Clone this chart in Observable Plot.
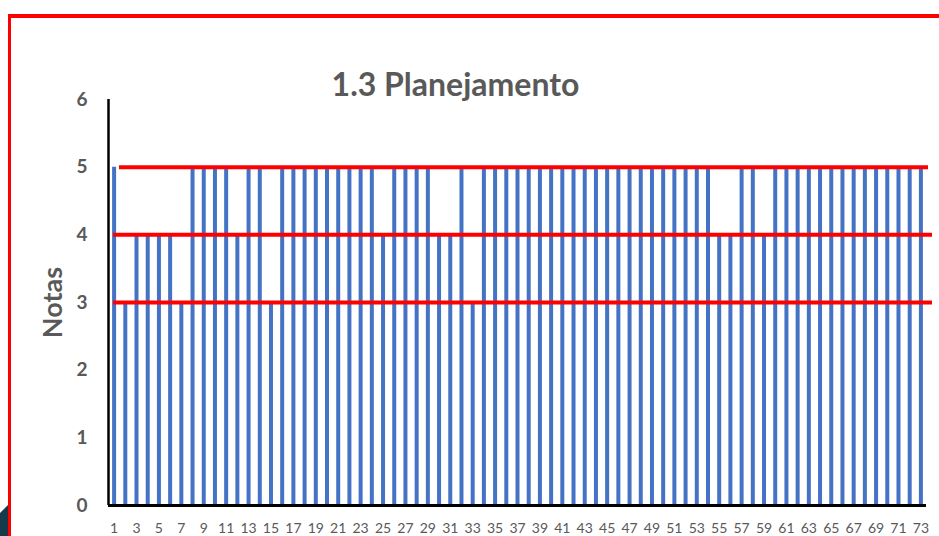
<!DOCTYPE html>
<html>
<head>
<meta charset="utf-8">
<script src="https://cdn.jsdelivr.net/npm/d3@7"></script>
<script src="https://cdn.jsdelivr.net/npm/@observablehq/plot@0.6"></script>
<style>
  html, body { margin: 0; padding: 0; background: #fff; }
  #wrap { position: relative; width: 939px; height: 536px; overflow: hidden; background: #fff; }
  #chart { position: absolute; left: 0; top: 0; }
  #border { position: absolute; left: 8px; top: 14px; width: 1000px; height: 700px;
            border-top: 4px solid #ff0000; border-left: 3px solid #ff0000; pointer-events: none; }
  #corner { position: absolute; left: 0; top: 504px; width: 9px; height: 32px; background: #173a4b;
            clip-path: polygon(0 9px, 100% 0, 100% 100%, 0 100%); }
</style>
</head>
<body>
<div id="wrap">
  <div id="chart"></div>
  <div id="corner"></div>
  <div id="border"></div>
</div>
<script>
const title = "1.3 Planejamento";
const yLabel = "Notas";
const alunos = [1,2,3,4,5,6,7,8,9,10,11,12,13,14,15,16,17,18,19,20,21,22,23,24,25,26,27,28,29,30,31,32,33,34,35,36,37,38,39,40,41,42,43,44,45,46,47,48,49,50,51,52,53,54,55,56,57,58,59,60,61,62,63,64,65,66,67,68,69,70,71,72,73];
const notas  = [5,3,4,4,4,4,3,5,5,5,5,4,5,5,3,5,5,5,5,5,5,5,5,5,4,5,5,5,5,4,4,5,3,5,5,5,5,5,5,5,5,5,5,5,5,5,5,5,5,5,5,5,5,5,4,4,5,5,4,5,5,5,5,5,5,5,5,5,5,5,5,5,5];
const xTicks = [1,3,5,7,9,11,13,15,17,19,21,23,25,27,29,31,33,35,37,39,41,43,45,47,49,51,53,55,57,59,61,63,65,67,69,71,73];
const yTicks = [0,1,2,3,4,5,6];
const referencias = [3,4,5];

const data = alunos.map((a, i) => ({aluno: a, nota: notas[i]}));

const chart = Plot.plot({
  width: 939,
  height: 536,
  marginLeft: 108,
  marginRight: 13,
  marginTop: 99,
  marginBottom: 31,
  style: {background: "transparent", fontFamily: "Lato, 'Open Sans', sans-serif"},
  x: {domain: [0.5, 73.5], axis: null},
  y: {domain: [0, 6], axis: null},
  marks: [
    Plot.text(xTicks, {x: d => d, frameAnchor: "bottom", textAnchor: "middle", lineAnchor: "middle", dy: 23,
                       text: d => String(d), fontSize: 14, fill: "#595959"}),
    Plot.text(yTicks, {y: d => d, frameAnchor: "left", textAnchor: "end", lineAnchor: "middle", dx: -21,
                       text: d => String(d), fontSize: 19, fontWeight: "bold", fill: "#595959"}),
    Plot.ruleX(data, {x: "aluno", y: "nota", stroke: "#4472C4", strokeWidth: 4}),
    Plot.ruleY(referencias.filter(v => v !== 5), {stroke: "#ff0000", strokeWidth: 4, insetLeft: 5, insetRight: -6}),
    Plot.ruleY(referencias.filter(v => v === 5), {stroke: "#ff0000", strokeWidth: 4, insetLeft: 11, insetRight: -2}),
    Plot.ruleX([0.5], {stroke: "#000", strokeWidth: 2.5}),
    Plot.ruleY([0], {stroke: "#000", strokeWidth: 3}),
    Plot.text([title], {frameAnchor: "top", textAnchor: "middle", lineAnchor: "middle", dy: -14, dx: -62,
                        fontSize: 32, fontWeight: "bold", fill: "#595959"}),
    Plot.text([yLabel], {frameAnchor: "left", textAnchor: "middle", lineAnchor: "middle", rotate: -90, dx: -55,
                         fontSize: 27, fontWeight: "bold", fill: "#595959"})
  ]
});
document.getElementById("chart").appendChild(chart);
</script>
</body>
</html>
